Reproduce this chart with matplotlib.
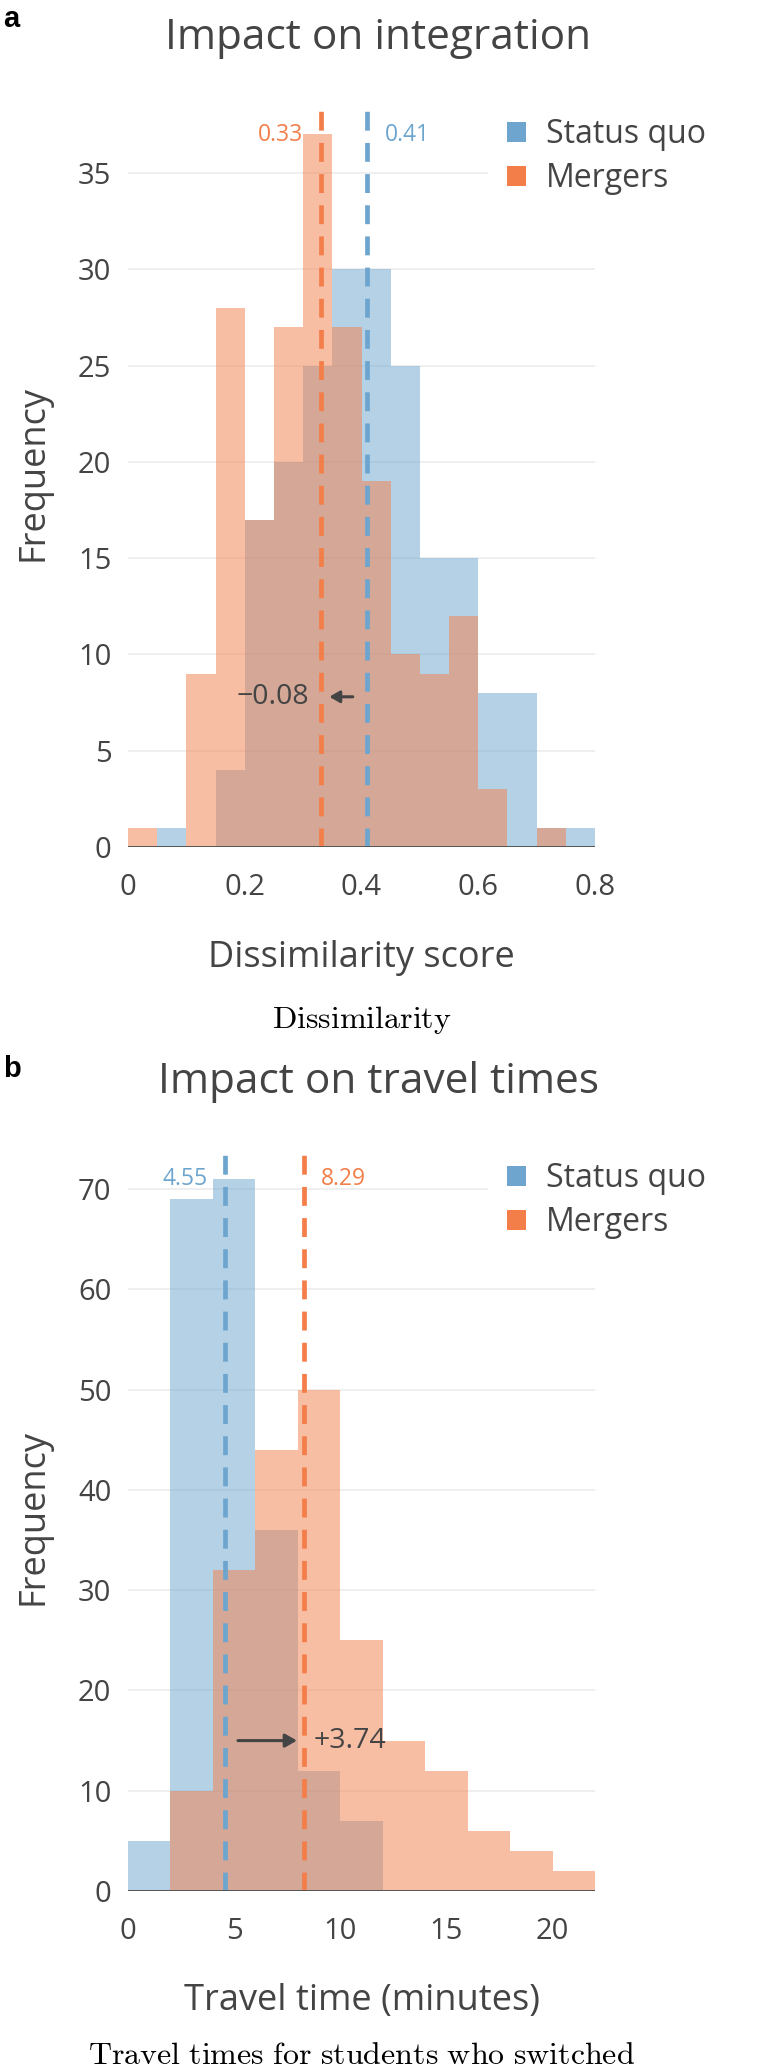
import numpy as np
import matplotlib
matplotlib.use("Agg")
import matplotlib.pyplot as plt
from matplotlib.patches import Patch

plt.rcParams['font.family'] = ['Open Sans', 'DejaVu Sans']
plt.rcParams['mathtext.fontset'] = 'cm'

BLUE = '#6DA5CF'
ORANGE = '#F37E4A'
GREY = '#444444'

# panel a: dissimilarity scores, bins of 0.05
dis_edges = np.round(np.arange(0, 0.8001, 0.05), 2)
dis_status_quo = [0, 1, 0, 4, 17, 20, 25, 30, 30, 25, 15, 15, 8, 8, 1, 1]
dis_mergers = [1, 0, 9, 28, 17, 27, 37, 27, 19, 10, 9, 12, 3, 0, 1, 0]
dis_mean_sq = 0.41
dis_mean_mg = 0.33
dis_xticks = [0, 0.2, 0.4, 0.6, 0.8]
dis_xticklabels = ['0', '0.2', '0.4', '0.6', '0.8']
dis_yticks = [0, 5, 10, 15, 20, 25, 30, 35]

# panel b: travel times, bins of 2 minutes
travel_edges = np.arange(0, 23, 2)
travel_status_quo = [5, 69, 71, 36, 12, 7, 0, 0, 0, 0, 0]
travel_mergers = [0, 10, 32, 44, 50, 25, 15, 12, 6, 4, 2]
travel_mean_sq = 4.55
travel_mean_mg = 8.29
travel_xticks = [0, 5, 10, 15, 20]
travel_yticks = [0, 10, 20, 30, 40, 50, 60, 70]

W, H = 760, 2072


def fx(px):
    return px / W


def fy(py):
    return 1 - py / H


fig = plt.figure(figsize=(W / 100, H / 100), dpi=100)


def panel(top_px, edges, sq, mg, mean_sq, mean_mg, xlim, ylim, xticks, xticklabels, yticks):
    ax = fig.add_axes([fx(128), fy(top_px + 748), fx(595) - fx(128), 748 / H])
    w = np.diff(edges)
    ax.bar(edges[:-1], sq, width=w, align='edge', color=BLUE, alpha=0.5, zorder=2, linewidth=0)
    ax.bar(edges[:-1], mg, width=w, align='edge', color=ORANGE, alpha=0.5, zorder=2, linewidth=0)
    ax.axhline(0, color='#555555', lw=1.4, zorder=4)
    ax.axvline(mean_sq, color=BLUE, lw=3.4, dashes=(4.0, 2.6), zorder=3)
    ax.axvline(mean_mg, color=ORANGE, lw=3.4, dashes=(4.0, 2.6), zorder=3)
    ax.set_xlim(*xlim)
    ax.set_ylim(*ylim)
    ax.set_xticks(xticks)
    ax.set_xticklabels(xticklabels)
    ax.set_yticks(yticks)
    ax.tick_params(length=0, labelsize=21, labelcolor=GREY)
    ax.tick_params(axis='x', pad=19)
    ax.tick_params(axis='y', pad=12)
    ax.grid(axis='y', color='#EBEBEB', lw=1.1, zorder=0)
    ax.set_axisbelow(True)
    for s in ax.spines.values():
        s.set_visible(False)
    # mean labels: lower mean on the left of its line, higher on the right
    lo, hi = sorted([(mean_sq, BLUE), (mean_mg, ORANGE)])
    ax.annotate(f'{lo[0]:g}', (lo[0], 0.952), xycoords=('data', 'axes fraction'),
                xytext=(-12.5, 0), textcoords='offset points', ha='right', va='center',
                color=lo[1], fontsize=16.5)
    ax.annotate(f'{hi[0]:g}', (hi[0], 0.952), xycoords=('data', 'axes fraction'),
                xytext=(12.5, 0), textcoords='offset points', ha='left', va='center',
                color=hi[1], fontsize=16.5)
    ax.legend([Patch(facecolor=BLUE), Patch(facecolor=ORANGE)], ['Status quo', 'Mergers'],
              loc='upper left', bbox_to_anchor=((488 - 128) / 467, 1.0), frameon=True,
              facecolor='white', edgecolor='none', framealpha=1, fontsize=23,
              handlelength=0.6, handleheight=0.6, handletextpad=0.62, labelspacing=0.34,
              borderpad=0.6, borderaxespad=0, labelcolor=GREY)
    return ax


ax1 = panel(99, dis_edges, dis_status_quo, dis_mergers, dis_mean_sq, dis_mean_mg,
            (0, 0.8), (0, 38.84), dis_xticks, dis_xticklabels, dis_yticks)
ax1.annotate('', xy=(0.345, 7.8), xytext=(0.385, 7.8),
             arrowprops=dict(arrowstyle='-|>,head_length=0.6,head_width=0.35', color=GREY, lw=2.2,
                             shrinkA=0, shrinkB=0), zorder=5)
ax1.text(0.31, 7.8, '\u22120.08', ha='right', va='center', color=GREY, fontsize=20.5, zorder=5)

ax2 = panel(1143, travel_edges, travel_status_quo, travel_mergers, travel_mean_sq, travel_mean_mg,
            (0, 22), (0, 74.6), travel_xticks, [str(t) for t in travel_xticks], travel_yticks)
ax2.annotate('', xy=(7.96, 15), xytext=(5.18, 15),
             arrowprops=dict(arrowstyle='-|>,head_length=0.7,head_width=0.4', color=GREY, lw=2.2,
                             shrinkA=0, shrinkB=0), zorder=5)
ax2.text(8.75, 15, '+3.74', ha='left', va='center', color=GREY, fontsize=20.5, zorder=5)

cx = fx(361.5)
# titles sit on the page centre, axis labels and captions on the plot centre
fig.text(fx(378), fy(49.3), 'Impact on integration', ha='center', va='baseline', fontsize=30.5, color=GREY)
fig.text(fx(378), fy(1092.7), 'Impact on travel times', ha='center', va='baseline', fontsize=30.5, color=GREY)
fig.text(cx, fy(967.4), 'Dissimilarity score', ha='center', va='baseline', fontsize=26, color=GREY)
fig.text(cx, fy(2010), 'Travel time (minutes)', ha='center', va='baseline', fontsize=26, color=GREY)
for top in (99, 1143):
    fig.text(fx(43), fy(top + 374), 'Frequency', rotation=90, rotation_mode='anchor',
             ha='center', va='baseline', fontsize=26, color=GREY)
fig.text(cx, fy(1028), r'$\mathrm{Dissimilarity}$', ha='center', va='baseline', fontsize=23, color='black')
fig.text(cx, fy(2064), r'$\mathrm{Travel\ times\ for\ students\ who\ switched}$',
         ha='center', va='baseline', fontsize=23, color='black')
fig.text(fx(3), fy(27), 'a', fontsize=21, fontweight='bold', family='Liberation Sans', va='baseline')
fig.text(fx(3), fy(1077), 'b', fontsize=21, fontweight='bold', family='Liberation Sans', va='baseline')

fig.savefig('out.png', dpi=100, facecolor='white')
